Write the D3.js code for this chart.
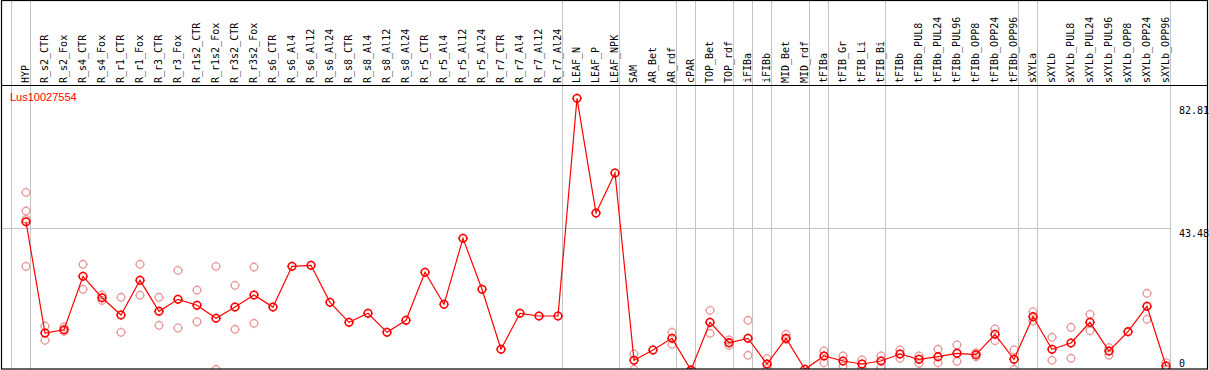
<!DOCTYPE html>
<html>
<head>
<meta charset="utf-8">
<script src="https://cdn.jsdelivr.net/npm/d3@7"></script>
<style>
  html, body { margin: 0; padding: 0; background: #fff; }
  svg { display: block; }
</style>
</head>
<body>
<script>
const geneLabel = "Lus10027554";

const categories = [
  "HYP","R_s2_CTR","R_s2_Fox","R_s4_CTR","R_s4_Fox","R_r1_CTR","R_r1_Fox","R_r3_CTR","R_r3_Fox",
  "R_r1s2_CTR","R_r1s2_Fox","R_r3s2_CTR","R_r3s2_Fox","R_s6_CTR","R_s6_Al4","R_s6_Al12","R_s6_Al24",
  "R_s8_CTR","R_s8_Al4","R_s8_Al12","R_s8_Al24","R_r5_CTR","R_r5_Al4","R_r5_Al12","R_r5_Al24",
  "R_r7_CTR","R_r7_Al4","R_r7_Al12","R_r7_Al24","LEAF_N","LEAF_P","LEAF_NPK","SAM","AR_Bet","AR_rdf",
  "cPAR","TOP_Bet","TOP_rdf","iFIBa","iFIBb","MID_Bet","MID_rdf","tFIBa","tFIB_Gr","tFIB_Li","tFIB_Bi",
  "tFIBb","tFIBb_PUL8","tFIBb_PUL24","tFIBb_PUL96","tFIBb_OPP8","tFIBb_OPP24","tFIBb_OPP96",
  "sXYLa","sXYLb","sXYLb_PUL8","sXYLb_PUL24","sXYLb_PUL96","sXYLb_OPP8","sXYLb_OPP24","sXYLb_OPP96"
];

const meanValues = [
  45.46, 11.80, 12.79, 28.95, 22.47, 17.24, 27.74, 18.36, 21.99,
  20.18, 16.24, 19.66, 23.29, 19.66, 31.97, 32.27, 21.08,
  15.03, 17.76, 12.01, 15.64, 30.16, 20.48, 40.44, 25.02,
  6.87, 17.76, 16.94, 16.94, 82.81, 48.09, 60.19, 3.54, 6.65, 10.19,
  0.60, 15.03, 8.86, 10.19, 2.42, 10.19, 0.82, 4.84, 3.33, 2.42, 3.33,
  5.44, 3.84, 4.63, 5.66, 5.23, 11.40, 3.84,
  16.73, 6.87, 8.77, 15.03, 6.35, 12.19, 19.87, 1.81
];

const replicateValues = [
  [54.36, 48.70, 46.19, 31.97],
  [13.91, 9.59],
  [13.61, 12.31],
  [32.58, 25.02],
  [23.29, 21.65],
  [22.60, 12.00],
  [32.58, 23.20],
  [22.60, 14.13],
  [30.76, 13.31],
  [24.80, 15.21],
  [31.97, 0.82],
  [26.22, 12.92],
  [31.76, 14.73],
  [], [], [], [],
  [], [], [], [],
  [], [], [], [],
  [], [], [], [],
  [], [], [],
  [5.44, 0.82],
  [],
  [12.01, 8.38],
  [],
  [18.66, 11.71],
  [9.68, 8.08],
  [15.64, 5.05],
  [4.02, 1.12],
  [11.40, 9.89],
  [],
  [6.35, 2.81],
  [4.84, 1.81],
  [3.63, 1.30],
  [4.84, 1.30],
  [6.65, 4.14],
  [4.84, 2.63],
  [6.87, 2.81],
  [8.17, 3.24],
  [5.84, 4.63],
  [13.01, 9.47],
  [6.65, 0.82],
  [18.24, 15.43],
  [10.50, 3.54],
  [13.52, 4.14],
  [17.45, 12.49],
  [7.35, 5.14],
  [],
  [23.81, 15.94],
  [2.81, 0.90]
];

const yTickValues = [0, 43.48, 82.81];
const gridValues = [43.48];
const groupEndIndices = [0, 28, 31, 34, 35, 37, 38, 39, 41, 42, 45, 52, 53, 60];

const W = 1209, H = 370;
const headerBottom = 85.5, plotBottom = 369;
const frameLeft = 1.5, frameRight = 1207.5;

const svg = d3.select("body").append("svg").attr("width", W).attr("height", H);

const x = d3.scalePoint().domain(categories).range([26, 1166]);
const y = d3.scaleLinear().domain([0, 82.81]).range([372, 98.3]);

svg.append("rect").attr("x", 0).attr("y", 0).attr("width", W).attr("height", H).attr("fill", "#fff");

// group separators (vertical grey lines)
const sepX = [x(categories[0]) - 15].concat(groupEndIndices.map(i => x(categories[i]) + 4));
svg.append("g").selectAll("line").data(sepX).join("line")
  .attr("x1", d => Math.round(d) + 0.5).attr("x2", d => Math.round(d) + 0.5)
  .attr("y1", 0).attr("y2", plotBottom)
  .attr("stroke", "#c3c3c3").attr("stroke-width", 1);

// horizontal grid
svg.append("g").selectAll("line").data(gridValues).join("line")
  .attr("x1", frameLeft).attr("x2", sepX[sepX.length - 1] + 1)
  .attr("y1", d => Math.round(y(d)) + 0.5).attr("y2", d => Math.round(y(d)) + 0.5)
  .attr("stroke", "#c3c3c3").attr("stroke-width", 1);

// header labels
svg.append("g").selectAll("text").data(categories).join("text")
  .attr("transform", d => `translate(${x(d) + 3},83) rotate(-90)`)
  .attr("font-family", "DejaVu Sans Mono, monospace")
  .attr("font-size", 10)
  .attr("fill", "#000")
  .text(d => d);

// y-axis tick labels (right)
const yAxis = d3.axisRight(y).tickValues(yTickValues).tickSize(0).tickFormat(d => d === 0 ? "0" : d3.format(".2f")(d));
const ax = svg.append("g").attr("transform", `translate(1179,0)`).call(yAxis);
ax.select(".domain").remove();
ax.selectAll("text")
  .attr("x", 0)
  .attr("dy", null)
  .attr("y", d => Math.max(114, Math.min(366, y(d) + 8)) - y(d))
  .attr("font-family", "DejaVu Sans Mono, monospace")
  .attr("font-size", 10)
  .attr("text-anchor", "start")
  .attr("fill", "#000");

svg.append("clipPath").attr("id", "plotclip").append("rect")
  .attr("x", 2).attr("y", headerBottom + 0.5).attr("width", 1205).attr("height", plotBottom - headerBottom - 0.5);

const plot = svg.append("g").attr("clip-path", "url(#plotclip)");

function marker(g, color, sw) {
  g.append("circle").attr("r", 3.8).attr("fill", "none").attr("stroke", color).attr("stroke-width", sw);
  const ticks = [[0, -3.8, 0, -4.9], [0, 3.8, 0, 4.9], [-3.8, 0, -4.9, 0], [3.8, 0, 4.9, 0]];
  ticks.forEach(t => g.append("line").attr("x1", t[0]).attr("y1", t[1]).attr("x2", t[2]).attr("y2", t[3])
    .attr("stroke", color).attr("stroke-width", 1));
}

// replicates
const repData = [];
replicateValues.forEach((arr, i) => arr.forEach(v => repData.push({ c: categories[i], v })));
plot.append("g").selectAll("g").data(repData).join("g")
  .attr("transform", d => `translate(${x(d.c)},${y(d.v)})`)
  .each(function () { marker(d3.select(this), "#e99a9a", 1.3); });

// mean line
const line = d3.line().x((d, i) => x(categories[i])).y(d => y(d));
plot.append("path").datum(meanValues)
  .attr("d", line).attr("fill", "none").attr("stroke", "#ff0000").attr("stroke-width", 1.2);

// mean markers
plot.append("g").selectAll("g").data(meanValues).join("g")
  .attr("transform", (d, i) => `translate(${x(categories[i])},${y(d)})`)
  .each(function () { marker(d3.select(this), "#ff0000", 1.6); });

// gene label
svg.append("text").attr("x", 10).attr("y", 101)
  .attr("font-family", "Liberation Sans, Arial, sans-serif").attr("font-size", 11)
  .attr("fill", "#ff0000").text(geneLabel);

// frame
svg.append("line").attr("x1", frameLeft).attr("x2", frameRight).attr("y1", headerBottom).attr("y2", headerBottom)
  .attr("stroke", "#000").attr("stroke-width", 1);
svg.append("rect").attr("x", frameLeft).attr("y", 0.5).attr("width", frameRight - frameLeft).attr("height", plotBottom - 0.5)
  .attr("fill", "none").attr("stroke", "#000").attr("stroke-width", 1.2);
</script>
</body>
</html>
